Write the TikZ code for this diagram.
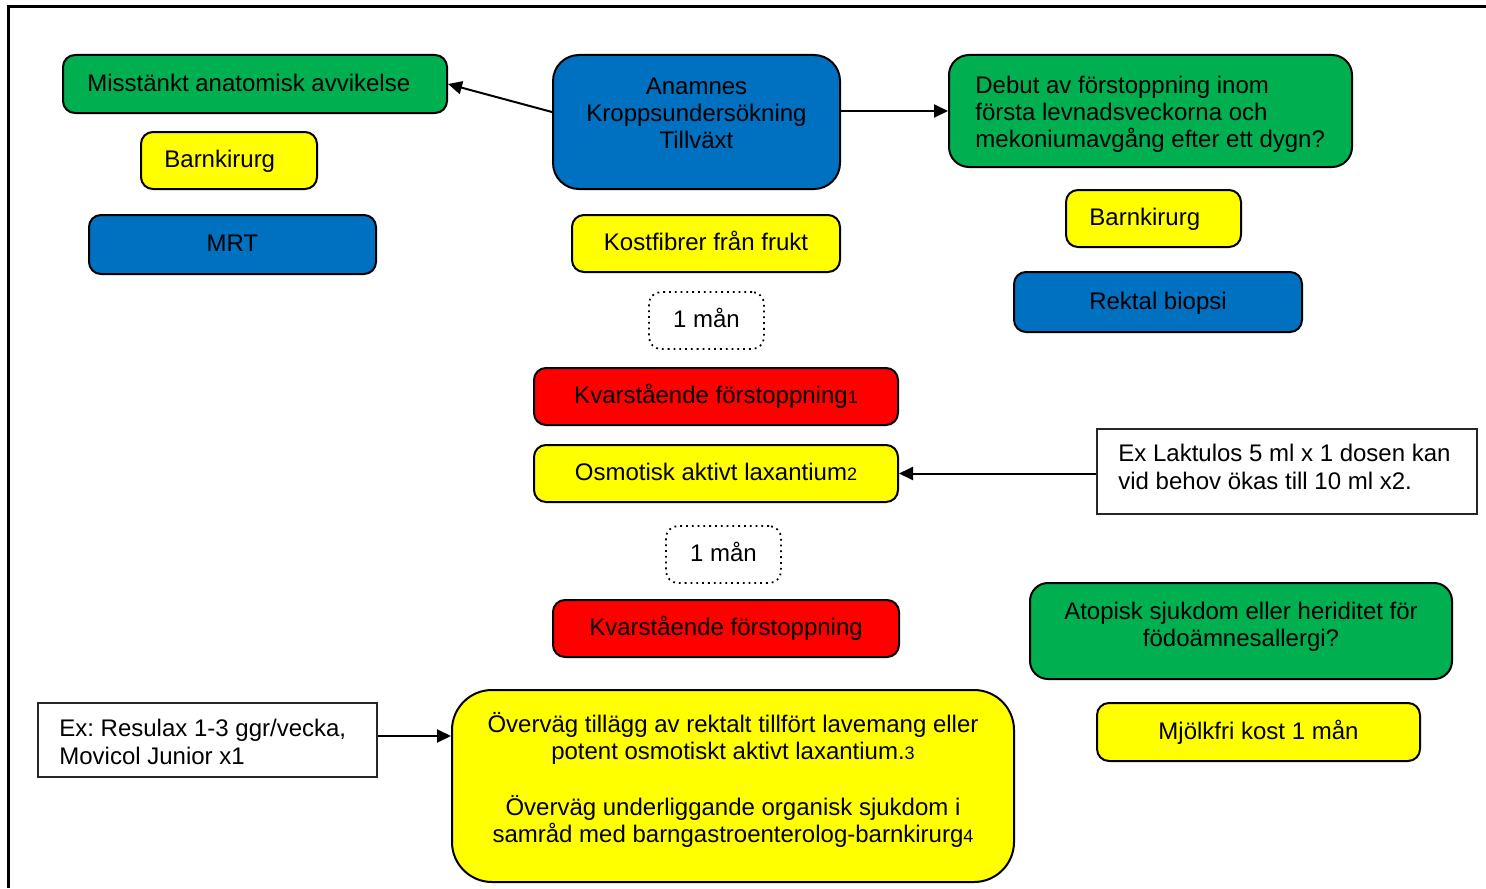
\documentclass[tikz,border=0pt]{standalone}
\usepackage{fontspec}
\setmainfont{Liberation Sans}
\usetikzlibrary{arrows.meta}
\definecolor{wgreen}{HTML}{00B050}
\definecolor{wblue}{HTML}{0070C0}
\definecolor{wyellow}{HTML}{FFFF00}
\definecolor{wred}{HTML}{FF0000}
\newcommand\smalldigit[1]{{\fontsize{9}{9}\selectfont #1}}
\begin{document}
\frenchspacing
\begin{tikzpicture}[x=0.5pt,y=-0.5pt,
  every node/.style={font=\fontsize{12}{13.6}\selectfont\frenchspacing, text=black},
  box/.style={draw=black, line width=1pt, rounded corners=6pt, inner sep=0pt, align=center},
  sl/.style={text height=9pt, text depth=2pt},
  gbox/.style={box, fill=wgreen},
  bbox/.style={box, fill=wblue},
  ybox/.style={box, fill=wyellow},
  rbox/.style={box, fill=wred},
  txt/.style={inner sep=0pt},
  ltxt/.style={inner sep=0pt, anchor=west, align=left},
  dotbox/.style={draw=black, line width=0.9pt, dotted, rounded corners=6pt, inner sep=0pt,
    minimum width=57.5pt, minimum height=28.5pt, sl},
  notebox/.style={draw=black!85, line width=1pt, inner sep=0pt},
  arr/.style={line width=1pt, -{Triangle[length=7pt,width=6.5pt]}},
  frame/.style={line width=1.5pt}
]
\useasboundingbox (0,0) rectangle (1486,888);
\draw[frame] (1486,7) -- (8,7) -- (8,888);

% left column
\node[gbox, minimum width=192pt, minimum height=29pt] (mis) at (255,84) {};
\node[ltxt, sl] (mist) at (87,84) {Misstänkt anatomisk avvikelse};
\node[ybox, minimum width=88pt, minimum height=28.5pt] (bk1) at (229,160.5) {};
\node[ltxt, sl] (bk1t) at (164,160.5) {Barnkirurg};
\node[bbox, sl, minimum width=143.5pt, minimum height=29.5pt] (mrt) at (232.5,244.5) {MRT};

% centre column
\node[bbox, rounded corners=13pt, minimum width=143.5pt, minimum height=67pt] (anam) at (696.5,122) {};
\node[txt, align=center] (anamt) at (696.5,113.5) {Anamnes\\Kroppsundersökning\\Tillväxt};
\node[ybox, sl, minimum width=134pt, minimum height=28.5pt] (kost) at (706,243.5) {Kostfibrer från frukt};
\node[dotbox] (man1) at (706.5,320.5) {1 mån};
\node[rbox, sl, minimum width=182pt, minimum height=28.5pt] (kv1) at (716,396.5) {Kvarstående förstoppning\smalldigit{1}};
\node[ybox, sl, minimum width=182pt, minimum height=28.5pt] (osm) at (716,473.5) {Osmotisk aktivt laxantium\smalldigit{2}};
\node[dotbox] (man2) at (723.5,554.5) {1 mån};
\node[rbox, sl, minimum width=173pt, minimum height=28.5pt] (kv2) at (726,628.5) {Kvarstående förstoppning};
\node[ybox, rounded corners=20pt, minimum width=281pt, minimum height=96pt] (big) at (733,786) {};
\node[txt, align=center] (bigt) at (733,780) {Överväg tillägg av rektalt tillfört lavemang eller\\potent osmotiskt aktivt laxantium.\smalldigit{3}\\[14.6pt]Överväg underliggande organisk sjukdom i\\samråd med barngastroenterolog-barnkirurg\smalldigit{4}};

% right column
\node[gbox, rounded corners=10pt, minimum width=201.5pt, minimum height=56pt] (debut) at (1150.5,111) {};
\node[ltxt] (debutt) at (975,114.5) {Debut av förstoppning inom\\första levnadsveckorna och\\mekoniumavgång efter ett dygn?};
\node[ybox, minimum width=87.5pt, minimum height=28.5pt] (bk2) at (1153.5,218.5) {};
\node[ltxt, sl] (bk2t) at (1089,218.5) {Barnkirurg};
\node[bbox, sl, minimum width=144pt, minimum height=30pt] (rekt) at (1158,302) {Rektal biopsi};
\node[notebox, minimum width=190pt, minimum height=42.5pt] (lakt) at (1287,471.5) {};
\node[ltxt] (laktt) at (1118,467) {Ex Laktulos 5 ml x 1 dosen kan\\vid behov ökas till 10 ml x2.};
\node[gbox, rounded corners=9pt, minimum width=211pt, minimum height=48pt] (atop) at (1241,631) {};
\node[txt, align=center] (atopt) at (1241,627) {Atopisk sjukdom eller heriditet för\\födoämnesallergi?};
\node[ybox, sl, minimum width=161.5pt, minimum height=29pt] (mjolk) at (1258.5,732) {Mjölkfri kost 1 mån};
\node[notebox, minimum width=169.5pt, minimum height=37pt] (resu) at (207.5,740) {};
\node[ltxt] (resut) at (59,742) {Ex: Resulax 1-3 ggr/vecka,\\Movicol Junior x1};

% connectors
\draw[arr] ([yshift=5pt]anam.west) -- (mis.east);
\draw[arr] (anam.east |- debut.west) -- (debut.west);
\draw[arr] (lakt.west |- osm.east) -- (osm.east);
\draw[arr] ([yshift=2pt]resu.east) coordinate (rs) -- (rs -| big.west);
\end{tikzpicture}
\end{document}
